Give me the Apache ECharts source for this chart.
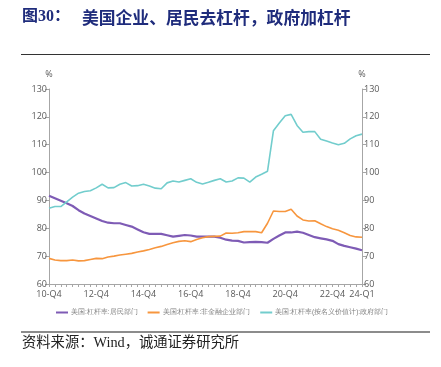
<!DOCTYPE html>
<html><head><meta charset="utf-8">
<script src="https://cdn.jsdelivr.net/npm/echarts@6/dist/echarts.min.js"></script>
<style>html,body{margin:0;padding:0;background:#fff}#c{width:441px;height:367px}</style>
</head><body><div id="c"></div>
<script>
// quarters 2010Q4 .. 2024Q1
const categories = [];
for (let y = 2010; y <= 2024; y++) for (let q = 1; q <= 4; q++) {
  if ((y === 2010 && q < 4) || (y === 2024 && q > 1)) continue;
  categories.push(String(y).slice(2) + '-Q' + q);
}
const tickLabels = ['10-Q4','12-Q4','14-Q4','16-Q4','18-Q4','20-Q4','22-Q4','24-Q1'];
const seriesNames = ['美国:杠杆率:居民部门','美国:杠杆率:非金融企业部门','美国:杠杆率(按名义价值计):政府部门'];
const household = [91.7,90.8,89.9,89.0,88.0,86.5,85.3,84.4,83.5,82.6,82.0,81.8,81.8,81.2,80.6,79.6,78.6,78.0,78.0,78.0,
  77.5,77.0,77.3,77.6,77.4,77.0,77.0,77.0,77.0,76.6,75.9,75.6,75.5,74.9,75.0,75.1,75.0,74.8,76.2,77.4,
  78.5,78.5,78.8,78.4,77.6,76.8,76.4,76.0,75.5,74.3,73.7,73.2,72.7,72.1];
const corporate = [69.2,68.6,68.4,68.4,68.6,68.3,68.4,68.8,69.2,69.1,69.7,70.0,70.4,70.7,71.0,71.5,71.9,72.4,73.0,73.5,
  74.2,74.8,75.3,75.5,75.2,76.0,76.6,77.0,77.1,77.2,78.3,78.2,78.4,78.8,78.8,78.8,78.4,81.8,86.2,86.0,
  86.0,86.8,84.4,83.0,82.6,82.7,81.6,80.6,79.8,79.3,78.4,77.4,76.9,76.8];
const government = [87.2,87.8,87.8,89.5,91.2,92.6,93.2,93.5,94.5,95.8,94.5,94.6,95.8,96.4,95.2,95.3,95.8,95.2,94.4,94.2,
  96.3,97.0,96.6,97.2,97.8,96.5,95.9,96.5,97.2,97.8,96.6,97.0,98.1,98.0,96.6,98.4,99.4,100.5,115.0,117.8,
  120.4,120.9,116.9,114.5,114.7,114.7,112.0,111.3,110.6,110.0,110.5,112.1,113.2,113.8];
const colors = ['#7E5BB5','#F7963E','#72CDCD'];

const chart = echarts.init(document.getElementById('c'));
const axisCommon = {
  type: 'value', min: 60, max: 130, interval: 10,
  splitLine: {show: false},
  axisLine: {show: true, lineStyle: {color: '#A6A6A6'}},
  axisTick: {show: true, length: 4, lineStyle: {color: '#A6A6A6'}},
  axisLabel: {color: '#595959', fontSize: 9, fontFamily: 'Open Sans', margin: 2},
  name: '%', nameGap: 10
};
chart.setOption({
  animation: false,
  color: colors,
  grid: {left: 49, right: 79, top: 89, bottom: 83},
  xAxis: {
    type: 'category', data: categories, boundaryGap: false,
    axisLine: {lineStyle: {color: '#A6A6A6'}},
    axisTick: {interval: 0, length: 3, lineStyle: {color: '#A6A6A6'}},
    axisLabel: {
      color: '#595959', fontSize: 9, fontFamily: 'Open Sans', margin: 6,
      interval: (i, v) => tickLabels.indexOf(v) >= 0
    }
  },
  yAxis: [
    Object.assign({}, axisCommon, {position: 'left', nameTextStyle: {color: '#595959', fontSize: 9, align: 'center', fontFamily: 'Open Sans'}}),
    Object.assign({}, axisCommon, {position: 'right', nameTextStyle: {color: '#595959', fontSize: 9, align: 'center', fontFamily: 'Open Sans'}})
  ],
  legend: {
    bottom: 46, left: 51, itemWidth: 12, itemHeight: 2, itemGap: 10,
    icon: 'rect',
    textStyle: {fontSize: 6.5, color: '#7F7F7F', padding: [0,0,0,-2]},
    data: seriesNames
  },
  series: [
    {name: seriesNames[0], type: 'line', data: household, symbol: 'none', lineStyle: {width: 2.2}},
    {name: seriesNames[1], type: 'line', data: corporate, symbol: 'none', lineStyle: {width: 1.6}},
    {name: seriesNames[2], type: 'line', data: government, symbol: 'none', lineStyle: {width: 1.6}}
  ],
  graphic: [
    {type: 'text', left: 22, top: 9, style: {text: '图30：', fontSize: 16, fontWeight: 'bold', fill: '#1F2C7C', fontFamily: 'Liberation Serif, Noto Sans CJK SC'}},
    {type: 'text', left: 82, top: 9, style: {text: '美国企业、居民去杠杆，政府加杠杆', fontSize: 16.8, fontWeight: 'bold', fill: '#1F2C7C', fontFamily: 'Noto Sans CJK SC'}},
    {type: 'rect', shape: {x: 21, y: 54, width: 409, height: 1}, style: {fill: '#333'}},
    {type: 'rect', shape: {x: 21, y: 331, width: 409, height: 2}, style: {fill: '#8C8C8C'}},
    {type: 'text', left: 22, top: 336, style: {text: '资料来源：Wind，诚通证券研究所', fontSize: 14.3, fill: '#222', fontFamily: 'Liberation Serif, Noto Sans CJK SC'}}
  ]
});
</script></body></html>
